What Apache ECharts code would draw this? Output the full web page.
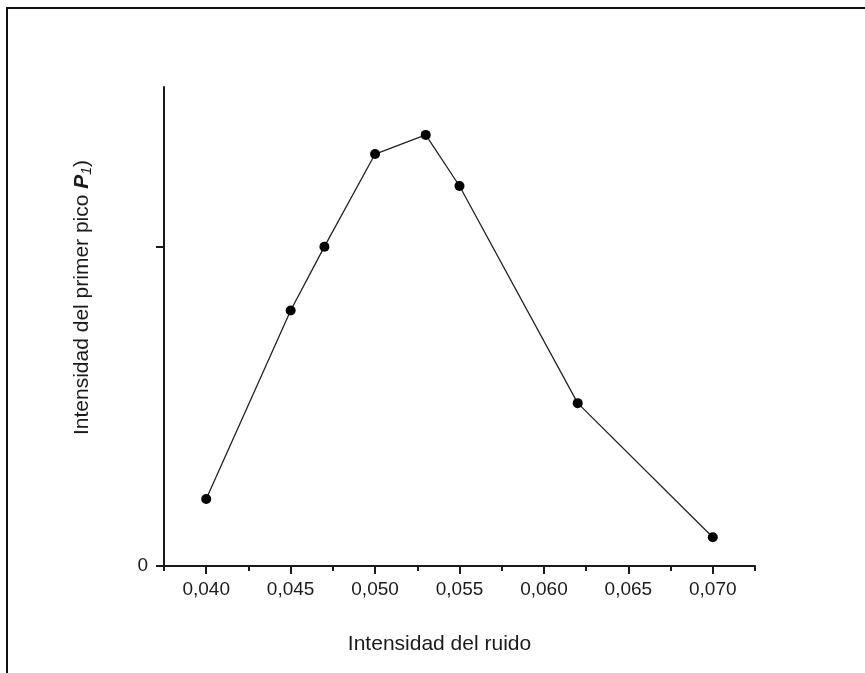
<!DOCTYPE html>
<html>
<head>
<meta charset="utf-8">
<script src="https://cdn.jsdelivr.net/npm/echarts@6/dist/echarts.min.js"></script>
<style>
  html, body { margin: 0; padding: 0; background: #ffffff; }
  #chart { width: 865px; height: 673px; }
</style>
</head>
<body>
<div id="chart"></div>
<script>
// Data
const noiseIntensity = [0.040, 0.045, 0.047, 0.050, 0.053, 0.055, 0.062, 0.070];
const peakIntensity  = [0.21, 0.80, 1.00, 1.29, 1.35, 1.19, 0.51, 0.09];

// Axis ticks
const xMajorTicks = [0.040, 0.045, 0.050, 0.055, 0.060, 0.065, 0.070];
const xMinorTicks = [0.0375, 0.0425, 0.0475, 0.0525, 0.0575, 0.0625, 0.0675, 0.0725];
const yTicks = [0, 1];
const yLabelTicks = [0];

const xAxisTitle = 'Intensidad del ruido';
const yAxisTitle = '{n|Intensidad del primer pico }{p|P}{s|1}{n|)}';

const points = noiseIntensity.map((x, i) => [x, peakIntensity[i]]);
const FONT = 'Liberation Sans, Arial, sans-serif';
const INK = '#1a1a1a';

const chart = echarts.init(document.getElementById('chart'), null, { renderer: 'canvas' });
chart.setOption({
  backgroundColor: '#ffffff',
  animation: false,
  grid: { left: 164, right: 110, top: 87, bottom: 107, containLabel: false },
  xAxis: [
    {
      type: 'value',
      min: 0.0375,
      max: 0.0725,
      position: 'bottom',
      splitLine: { show: false },
      axisLine: { show: true, onZero: false, lineStyle: { color: INK, width: 2 } },
      axisTick: { show: true, customValues: xMajorTicks, length: 8, lineStyle: { color: INK, width: 2 } },
      axisLabel: {
        show: true,
        customValues: xMajorTicks,
        margin: 14,
        fontFamily: FONT,
        fontSize: 19,
        color: INK,
        formatter: v => v.toFixed(3).replace('.', ',')
      },
      name: xAxisTitle,
      nameLocation: 'middle',
      nameGap: 68,
      nameTextStyle: { fontFamily: FONT, fontSize: 21, color: INK, padding: [0, 40, 0, 0] }
    },
    {
      type: 'value',
      min: 0.0375,
      max: 0.0725,
      position: 'bottom',
      offset: 0,
      splitLine: { show: false },
      axisLine: { show: false },
      axisTick: { show: true, customValues: xMinorTicks, length: 5, lineStyle: { color: INK, width: 2 } },
      axisLabel: { show: false }
    }
  ],
  yAxis: {
    type: 'value',
    min: 0,
    max: 1.5,
    splitLine: { show: false },
    axisLine: { show: true, lineStyle: { color: INK, width: 2 } },
    axisTick: { show: true, customValues: yTicks, length: 8, lineStyle: { color: INK, width: 2 } },
    axisLabel: {
      show: true,
      showMinLabel: true,
      customValues: yLabelTicks,
      margin: 16,
      fontFamily: FONT,
      fontSize: 19,
      color: INK,
      formatter: v => String(v)
    },
    name: yAxisTitle,
    nameLocation: 'middle',
    nameGap: 70,
    nameTextStyle: {
      fontFamily: FONT,
      fontSize: 21,
      color: INK,
      padding: [0, 0, 0, 58],
      rich: {
        n: { fontFamily: FONT, fontSize: 21, color: INK },
        p: { fontFamily: FONT, fontSize: 21, color: INK, fontWeight: 'bold', fontStyle: 'italic' },
        s: { fontFamily: FONT, fontSize: 14, color: INK, fontStyle: 'italic', padding: [9, 0, 0, 0] }
      }
    }
  },
  series: [{
    type: 'line',
    xAxisIndex: 0,
    data: points,
    symbol: 'circle',
    symbolSize: 10,
    itemStyle: { color: '#000000' },
    lineStyle: { color: '#222222', width: 1.3 }
  }],
  graphic: [
    { type: 'line', silent: true, shape: { x1: 6, y1: 8, x2: 865, y2: 8 }, style: { stroke: '#111', lineWidth: 2 } },
    { type: 'line', silent: true, shape: { x1: 7, y1: 7, x2: 7, y2: 673 }, style: { stroke: '#111', lineWidth: 2 } }
  ]
});
</script>
</body>
</html>
